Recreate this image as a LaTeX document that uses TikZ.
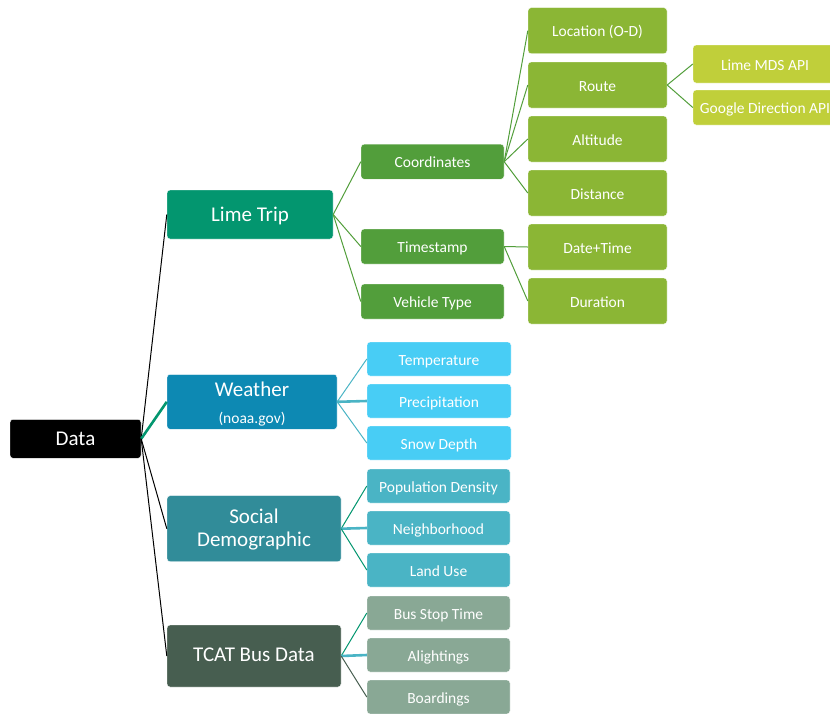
\documentclass[tikz,border=0pt]{standalone}
\usepackage{fontspec}
\setmainfont{Carlito}
\definecolor{cData}{HTML}{000000}
\definecolor{cLime}{HTML}{03966F}
\definecolor{cWeather}{HTML}{0D89B3}
\definecolor{cSocial}{HTML}{318C99}
\definecolor{cTcat}{HTML}{475E50}
\definecolor{cGreenA}{HTML}{529E3B}
\definecolor{cGreenB}{HTML}{8BB635}
\definecolor{cGreenC}{HTML}{C0CF3A}
\definecolor{cSky}{HTML}{48CDF5}
\definecolor{cAqua}{HTML}{4AB4C5}
\definecolor{cSage}{HTML}{89A895}
\tikzset{
  box/.style={rectangle, rounded corners=3pt, text=white, inner sep=0pt, draw=white, line width=0.4pt},
  big/.style={box, font=\fontsize{21}{25}\selectfont, text height=12.8pt, text depth=0pt},
  bigml/.style={box, font=\fontsize{21}{25}\selectfont},
  small/.style={box, font=\fontsize{15.5}{18}\selectfont, text height=12pt, text depth=0pt},
  link/.style={line width=1pt},
  thick link/.style={line width=2.6pt},
}
\begin{document}
\begin{tikzpicture}[x=1pt,y=-1pt]
\useasboundingbox (0,0) rectangle (830,713);
\clip (0,0) rectangle (830,713);
% level 0
\node[big, fill=cData, minimum width=131, minimum height=39] (data) at (75.5,438.8) {Data};
% level 1
\node[big, fill=cLime, minimum width=166, minimum height=49, text height=14pt] (lime) at (250,214.5) {Lime Trip};
\node[bigml, fill=cWeather, minimum width=170, minimum height=55] (weather) at (252,401.8)
  {\raisebox{0pt}[0pt][11.6pt]{\begin{tabular}[t]{@{}c@{}}Weather\\[2.3pt]{\fontsize{15.5}{18}\selectfont (noaa.gov)}\end{tabular}}};
\node[bigml, fill=cSocial, minimum width=174, minimum height=66] (social) at (254,528.7)
  {\raisebox{0pt}[0pt][10.8pt]{\begin{tabular}[t]{@{}c@{}}Social\\[-2.3pt]Demographic\end{tabular}}};
\node[big, fill=cTcat, minimum width=174, minimum height=62, text height=11.4pt] (tcat) at (254,656) {TCAT Bus Data};
% lime children
\node[small, fill=cGreenA, minimum width=143, minimum height=35] (coord) at (432.5,161.7) {Coordinates};
\node[small, fill=cGreenA, minimum width=143, minimum height=35] (stamp) at (432.5,246.5) {Timestamp};
\node[small, fill=cGreenA, minimum width=143, minimum height=35] (vtype) at (432.5,301.5) {Vehicle Type};
% level 3 green
\node[small, fill=cGreenB, minimum width=139, minimum height=46] (loc) at (597.5,30.7) {Location (O-D)};
\node[small, fill=cGreenB, minimum width=139, minimum height=46] (route) at (597.5,85) {Route};
\node[small, fill=cGreenB, minimum width=139, minimum height=46] (alt) at (597.5,139) {Altitude};
\node[small, fill=cGreenB, minimum width=139, minimum height=46] (dist) at (597.5,193) {Distance};
\node[small, fill=cGreenB, minimum width=139, minimum height=46] (dtime) at (597.5,247) {Date+Time};
\node[small, fill=cGreenB, minimum width=139, minimum height=46] (dur) at (597.5,301) {Duration};
% route children
\node[small, fill=cGreenC, minimum width=144, minimum height=38] (mds) at (765,64) {Lime MDS API};
\node[small, fill=cGreenC, minimum width=144, minimum height=35] (gdir) at (765,107.5) {Google Direction API};
% weather children
\node[small, fill=cSky, minimum width=144, minimum height=34] (temp) at (439,359) {Temperature};
\node[small, fill=cSky, minimum width=144, minimum height=34] (prec) at (439,401) {Precipitation};
\node[small, fill=cSky, minimum width=144, minimum height=34] (snow) at (439,443) {Snow Depth};
% social children
\node[small, fill=cAqua, minimum width=143, minimum height=34] (pop) at (438.5,486) {Population Density};
\node[small, fill=cAqua, minimum width=143, minimum height=34] (nbh) at (438.5,528) {Neighborhood};
\node[small, fill=cAqua, minimum width=143, minimum height=34] (land) at (438.5,570) {Land Use};
% tcat children
\node[small, fill=cSage, minimum width=143, minimum height=34] (bus) at (438.5,613) {Bus Stop Time};
\node[small, fill=cSage, minimum width=143, minimum height=34] (alight) at (438.5,655) {Alightings};
\node[small, fill=cSage, minimum width=143, minimum height=34] (board) at (438.5,697) {Boardings};
% connectors
\draw[link, black] (data.east) -- (lime.west);
\draw[thick link, cLime] (data.east) -- (weather.west);
\draw[link, black] (data.east) -- (social.west);
\draw[link, black] (data.east) -- (tcat.west);
\foreach \c in {coord,stamp,vtype} \draw[link, cGreenA] (lime.east) -- (\c.west);
\foreach \c in {loc,route,alt,dist} \draw[link, cGreenA] (coord.east) -- (\c.west);
\foreach \c in {dtime,dur} \draw[link, cGreenA] (stamp.east) -- (\c.west);
\foreach \c in {mds,gdir} \draw[link, cGreenA] (route.east) -- (\c.west);
\draw[link, cAqua] (weather.east) -- (temp.west);
\draw[thick link, cAqua] (weather.east) -- (prec.west);
\draw[link, cAqua] (weather.east) -- (snow.west);
\draw[link, cLime] (social.east) -- (pop.west);
\draw[thick link, cAqua] (social.east) -- (nbh.west);
\draw[link, cLime] (social.east) -- (land.west);
\draw[link, cLime] (tcat.east) -- (bus.west);
\draw[thick link, cAqua] (tcat.east) -- (alight.west);
\draw[link, cTcat] (tcat.east) -- (board.west);
\end{tikzpicture}
\end{document}
